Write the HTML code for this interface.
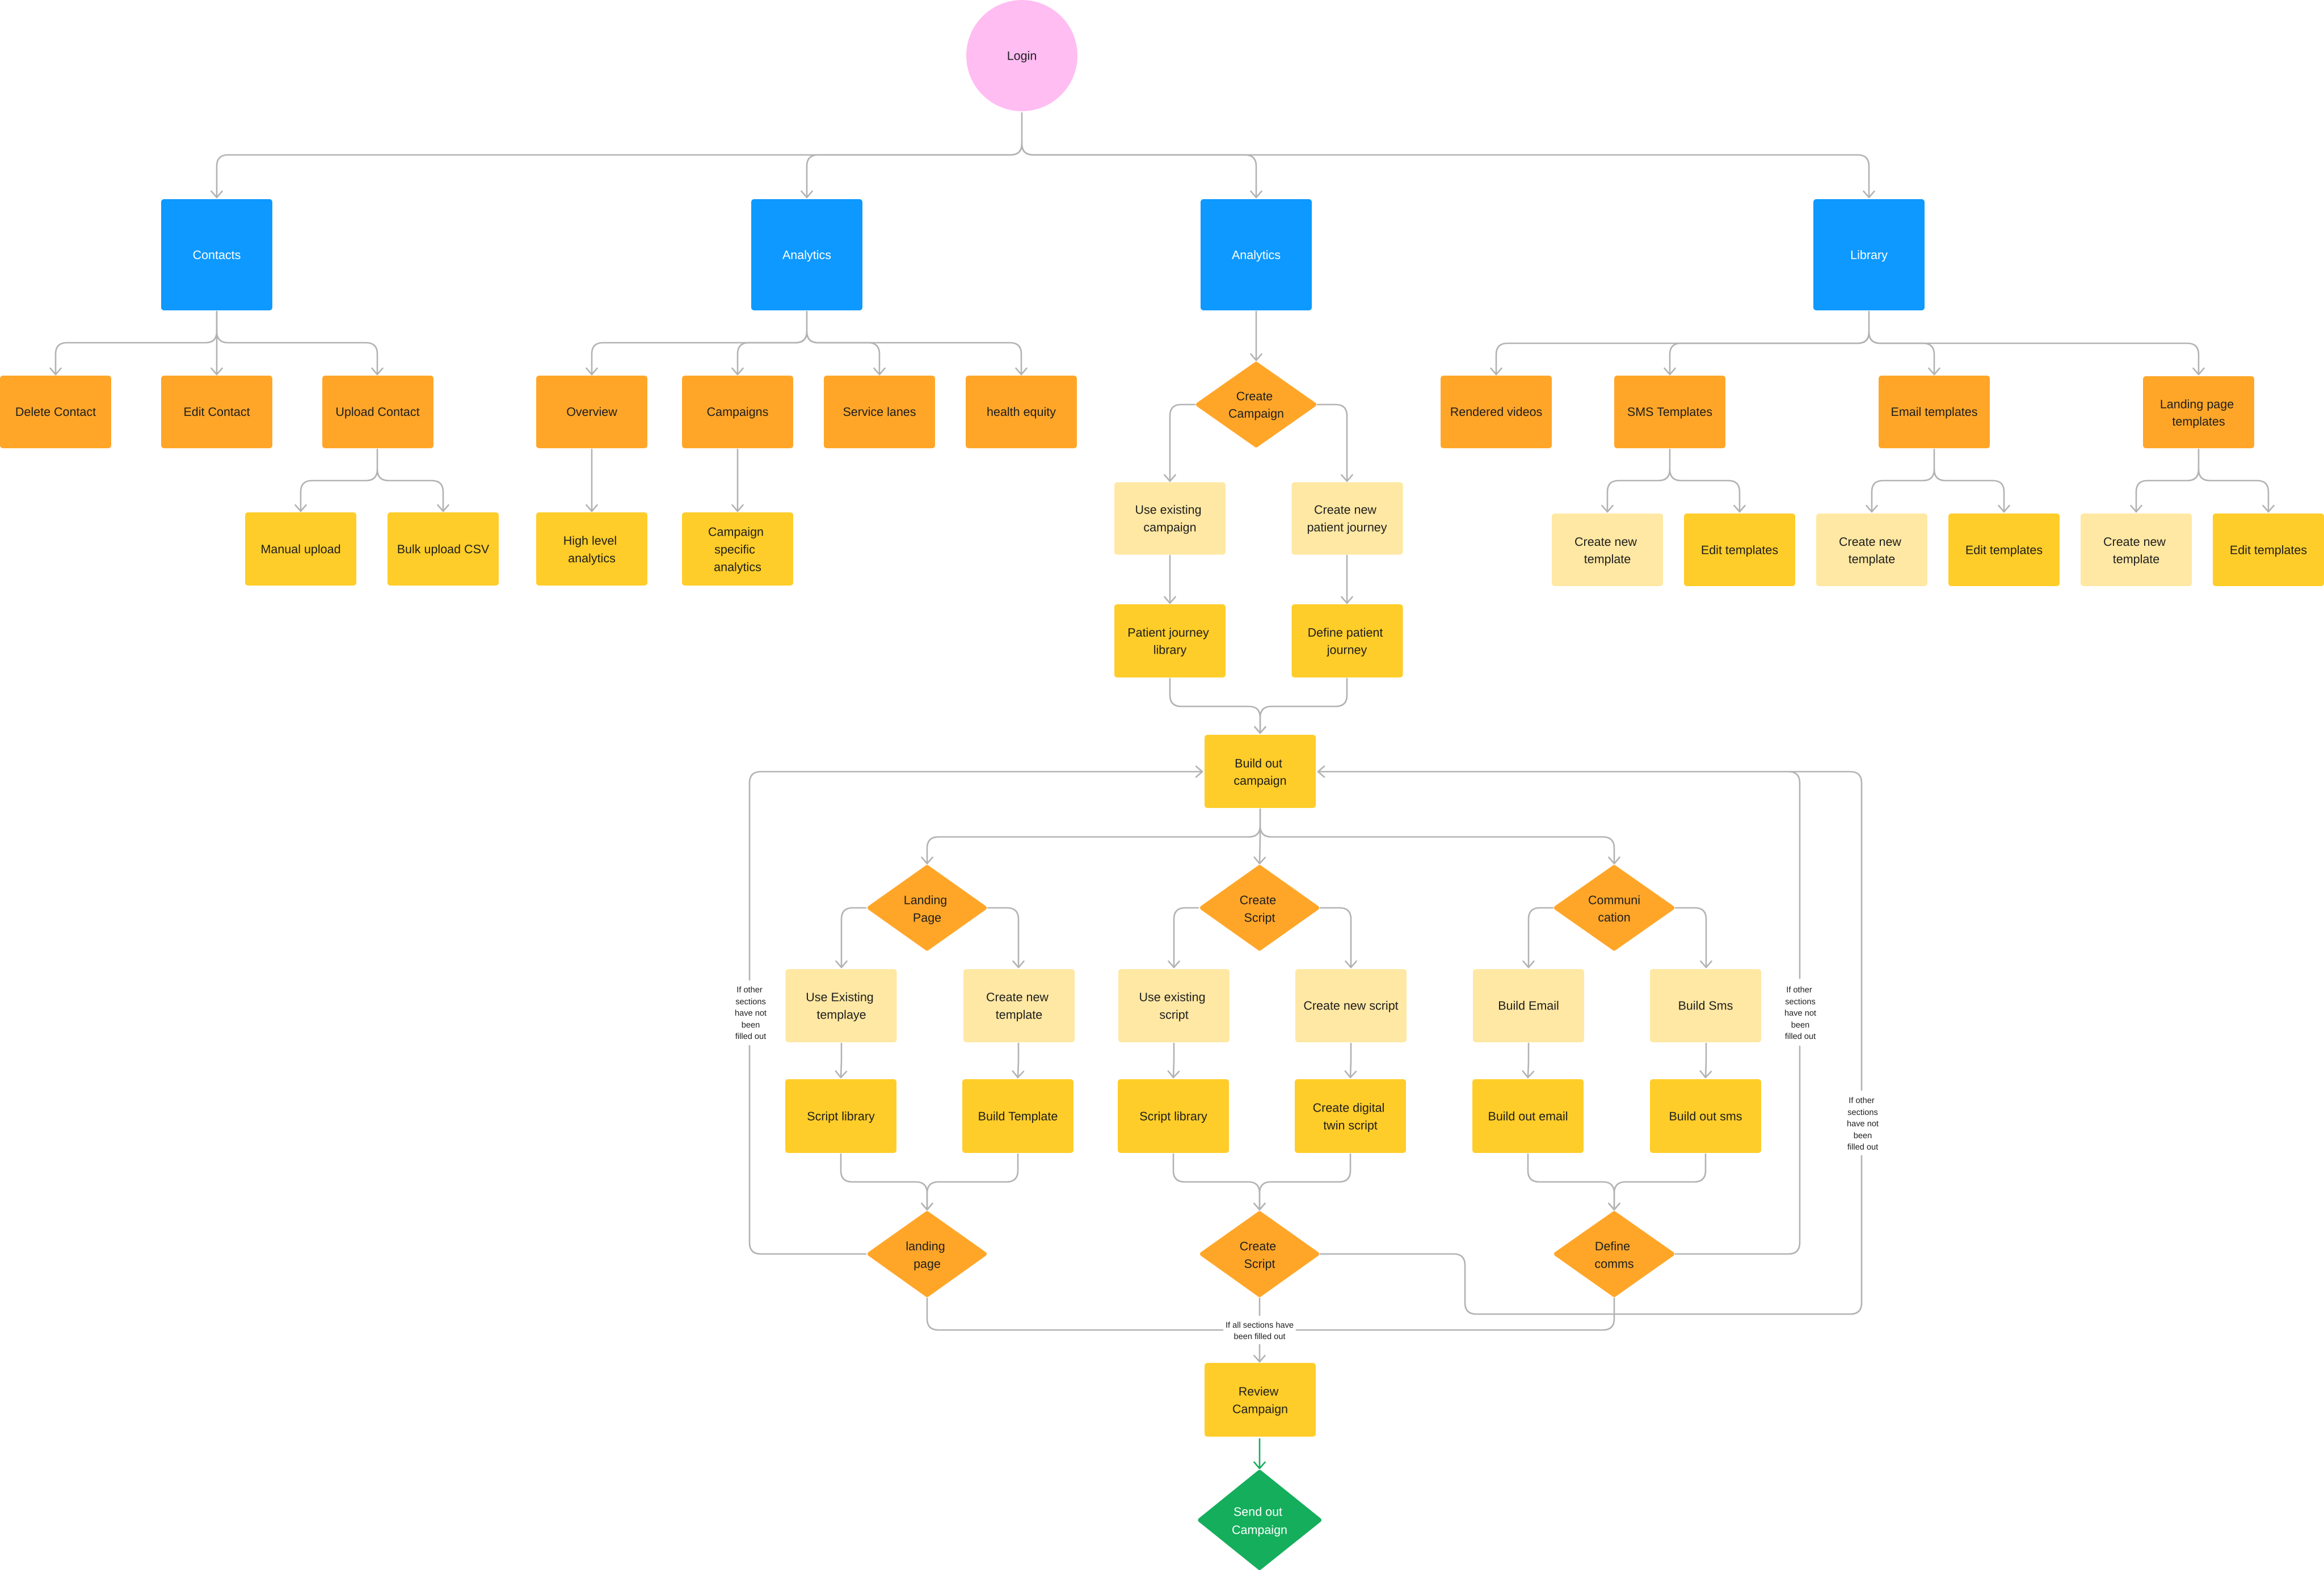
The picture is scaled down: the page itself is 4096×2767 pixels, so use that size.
<!DOCTYPE html>
<html lang="en"><head><meta charset="utf-8"><title>Campaign flow diagram</title>
<style>
html,body{margin:0;padding:0;background:#fff;width:4096px;height:2767px;overflow:hidden}
svg{display:block}
text{font-family:"Liberation Sans",sans-serif;font-size:21.5px;fill:#1e1e1e;text-anchor:middle;text-rendering:geometricPrecision}
.w{fill:#fff}
.s{font-size:14.6px}
.c{fill:none;stroke:#b3b3b3;stroke-width:2.6;stroke-linecap:round;stroke-linejoin:round}
.a{marker-end:url(#ar)}
.g{fill:none;stroke:#14ae5c;stroke-width:2.6;marker-end:url(#ag)}
.bl{fill:#0d99ff}.or{fill:#ffa629}.ye{fill:#ffcd29}.li{fill:#ffe8a3}
.dm{stroke:#ffa629;stroke-width:8;stroke-linejoin:round;fill:#ffa629}
</style></head><body>
<svg xmlns="http://www.w3.org/2000/svg" width="4096" height="2767" viewBox="0 0 4096 2767">
<defs>
<marker id="ar" markerUnits="userSpaceOnUse" viewBox="-14 -12 16 24" refX="0" refY="0" markerWidth="16" markerHeight="24" orient="auto"><path d="M-11 -9.5L0 0L-11 9.5" fill="none" stroke="#b3b3b3" stroke-width="2.6" stroke-linecap="round" stroke-linejoin="round"/></marker>
<marker id="ag" markerUnits="userSpaceOnUse" viewBox="-14 -12 16 24" refX="0" refY="0" markerWidth="16" markerHeight="24" orient="auto"><path d="M-11 -9.5L0 0L-11 9.5" fill="none" stroke="#14ae5c" stroke-width="2.6" stroke-linecap="round" stroke-linejoin="round"/></marker>
</defs>
<rect width="4096" height="2767" fill="#fff"/>

<!-- connectors -->
<g class="c">
<path class="a" d="M1801 199V253Q1801 273 1781 273H402Q382 273 382 293V348"/>
<path class="a" d="M1801 253Q1801 273 1781 273H1442Q1422 273 1422 293V348"/>
<path class="a" d="M1801 253Q1801 273 1821 273H2194Q2214 273 2214 293V348"/>
<path class="a" d="M1801 253Q1801 273 1821 273H3274Q3294 273 3294 293V348"/>

<path class="a" d="M382 549V584Q382 604 362 604H118Q98 604 98 624V660"/>
<path class="a" d="M382 549V660"/>
<path class="a" d="M382 584Q382 604 402 604H645Q665 604 665 624V660"/>
<path class="a" d="M665 792V827Q665 847 645 847H550Q530 847 530 867V901"/>
<path class="a" d="M665 827Q665 847 685 847H761Q781 847 781 867V901"/>

<path class="a" d="M1422 549V584Q1422 604 1402 604H1063Q1043 604 1043 624V660"/>
<path class="a" d="M1422 584Q1422 604 1402 604H1320Q1300 604 1300 624V660"/>
<path class="a" d="M1422 584Q1422 604 1442 604H1530Q1550 604 1550 624V660"/>
<path class="a" d="M1422 584Q1422 604 1442 604H1780Q1800 604 1800 624V660"/>
<path class="a" d="M1043 792V901"/>
<path class="a" d="M1300 792V901"/>

<path class="a" d="M2214 549V635"/>
<path class="a" d="M2106 713H2082Q2062 713 2062 733V848"/>
<path class="a" d="M2322 713H2354Q2374 713 2374 733V848"/>
<path class="a" d="M2062 979V1063"/>
<path class="a" d="M2374 979V1063"/>
<path class="a" d="M2062 1196V1225Q2062 1245 2082 1245H2201Q2221 1245 2221 1265V1292"/>
<path class="a" d="M2374 1196V1225Q2374 1245 2354 1245H2241Q2221 1245 2221 1265V1292"/>

<path class="a" d="M3294 549V585Q3294 605 3274 605H2657Q2637 605 2637 625V660"/>
<path class="a" d="M3294 585Q3294 605 3274 605H2963Q2943 605 2943 625V660"/>
<path class="a" d="M3294 585Q3294 605 3314 605H3389Q3409 605 3409 625V660"/>
<path class="a" d="M3294 585Q3294 605 3314 605H3855Q3875 605 3875 625V660"/>
<path class="a" d="M2943 792V827Q2943 847 2923 847H2853Q2833 847 2833 867V902"/>
<path class="a" d="M2943 827Q2943 847 2963 847H3046Q3066 847 3066 867V902"/>
<path class="a" d="M3409 792V827Q3409 847 3389 847H3319Q3299 847 3299 867V902"/>
<path class="a" d="M3409 827Q3409 847 3429 847H3512Q3532 847 3532 867V902"/>
<path class="a" d="M3875 792V827Q3875 847 3855 847H3785Q3765 847 3765 867V902"/>
<path class="a" d="M3875 827Q3875 847 3895 847H3978Q3998 847 3998 867V902"/>

<path class="a" d="M2221 1426V1455Q2221 1475 2201 1475H1654Q1634 1475 1634 1495V1522"/>
<path class="a" d="M2221 1426V1475L2220 1522"/>
<path class="a" d="M2221 1455Q2221 1475 2241 1475H2825Q2845 1475 2845 1495V1522"/>

<path class="a" d="M1526 1600H1503Q1483 1600 1483 1620V1705"/>
<path class="a" d="M1741 1600H1775Q1795 1600 1795 1620V1705"/>
<path class="a" d="M2112 1600H2089Q2069 1600 2069 1620V1705"/>
<path class="a" d="M2327 1600H2361Q2381 1600 2381 1620V1705"/>
<path class="a" d="M2737 1600H2714Q2694 1600 2694 1620V1705"/>
<path class="a" d="M2953 1600H2987Q3007 1600 3007 1620V1705"/>

<path class="a" d="M1483 1839V1870L1482 1899"/>
<path class="a" d="M1795 1839V1870L1794 1899"/>
<path class="a" d="M2069 1839V1870L2068 1899"/>
<path class="a" d="M2381 1839V1870L2380 1899"/>
<path class="a" d="M2694 1839V1870L2693 1899"/>
<path class="a" d="M3007 1839V1870L3006 1899"/>

<path class="a" d="M1482 2034V2063Q1482 2083 1502 2083H1614Q1634 2083 1634 2103V2132"/>
<path class="a" d="M1794 2034V2063Q1794 2083 1774 2083H1654Q1634 2083 1634 2103V2132"/>
<path class="a" d="M2068 2034V2063Q2068 2083 2088 2083H2200Q2220 2083 2220 2103V2132"/>
<path class="a" d="M2380 2034V2063Q2380 2083 2360 2083H2240Q2220 2083 2220 2103V2132"/>
<path class="a" d="M2693 2034V2063Q2693 2083 2713 2083H2825Q2845 2083 2845 2103V2132"/>
<path class="a" d="M3006 2034V2063Q3006 2083 2986 2083H2865Q2845 2083 2845 2103V2132"/>

<path d="M1526 2210H1341Q1321 2210 1321 2190V1843"/>
<path class="a" d="M1321 1727V1380Q1321 1360 1341 1360H2119"/>
<path d="M2953 2210H3152Q3172 2210 3172 2190V1844"/>
<path class="a" d="M3172 1724V1380Q3172 1360 3152 1360H2323"/>
<path d="M2327 2210H2562Q2582 2210 2582 2230V2296Q2582 2316 2602 2316H3261Q3281 2316 3281 2296V2037"/>
<path d="M3281 1921V1380Q3281 1360 3261 1360H3152"/>

<path d="M1634 2288V2324Q1634 2344 1654 2344H2155"/>
<path d="M2285 2344H2825Q2845 2344 2845 2324V2288"/>
<path d="M2220 2288V2318"/>
<path class="a" d="M2220 2370V2400"/>
</g>
<path class="g" d="M2220 2535V2588"/>

<!-- login -->
<ellipse cx="1801" cy="98" rx="98" ry="98" fill="#ffbdf2"/>
<text x="1801" y="105.500">Login</text>

<!-- blue -->
<rect class="bl" x="284" y="351" width="196" height="196" rx="5"/><text class="w" x="382" y="456.500">Contacts</text>
<rect class="bl" x="1324" y="351" width="196" height="196" rx="5"/><text class="w" x="1422" y="456.500">Analytics</text>
<rect class="bl" x="2116" y="351" width="196" height="196" rx="5"/><text class="w" x="2214" y="456.500">Analytics</text>
<rect class="bl" x="3196" y="351" width="196" height="196" rx="5"/><text class="w" x="3294" y="456.500">Library</text>

<!-- orange row -->
<rect class="or" x="0" y="662" width="196" height="128" rx="5"/><text x="98" y="733">Delete Contact</text>
<rect class="or" x="284" y="662" width="196" height="128" rx="5"/><text x="382" y="733">Edit Contact</text>
<rect class="or" x="568" y="662" width="196" height="128" rx="5"/><text x="665.500" y="733">Upload Contact</text>
<rect class="or" x="945" y="662" width="196" height="128" rx="5"/><text x="1043" y="733">Overview</text>
<rect class="or" x="1202" y="662" width="196" height="128" rx="5"/><text x="1300" y="733">Campaigns</text>
<rect class="or" x="1452" y="662" width="196" height="128" rx="5"/><text x="1550" y="733">Service lanes</text>
<rect class="or" x="1702" y="662" width="196" height="128" rx="5"/><text x="1800" y="733">health equity</text>
<rect class="or" x="2539" y="662" width="196" height="128" rx="5"/><text x="2637" y="733">Rendered videos</text>
<rect class="or" x="2845" y="662" width="196" height="128" rx="5"/><text x="2943" y="733">SMS Templates</text>
<rect class="or" x="3311" y="662" width="196" height="128" rx="5"/><text x="3409" y="733">Email templates</text>
<rect class="or" x="3777" y="663" width="196" height="127" rx="5"/><text x="3872" y="719.500">Landing page</text><text x="3875" y="750">templates</text>

<!-- row 3 -->
<rect class="ye" x="432" y="903" width="196" height="129" rx="5"/><text x="530" y="975">Manual upload</text>
<rect class="ye" x="683" y="903" width="196" height="129" rx="5"/><text x="781" y="975">Bulk upload CSV</text>
<rect class="ye" x="945" y="903" width="196" height="129" rx="5"/><text x="1040" y="960">High level</text><text x="1043" y="991">analytics</text>
<rect class="ye" x="1202" y="903" width="196" height="129" rx="5"/><text x="1297" y="944.500">Campaign</text><text x="1295" y="975.500">specific</text><text x="1300" y="1006.500">analytics</text>
<rect class="li" x="2735" y="905" width="196" height="128" rx="5"/><text x="2830" y="962">Create new</text><text x="2833" y="992.500">template</text>
<rect class="ye" x="2968" y="905" width="196" height="128" rx="5"/><text x="3066" y="976.500">Edit templates</text>
<rect class="li" x="3201" y="905" width="196" height="128" rx="5"/><text x="3296" y="962">Create new</text><text x="3299" y="992.500">template</text>
<rect class="ye" x="3434" y="905" width="196" height="128" rx="5"/><text x="3532" y="976.500">Edit templates</text>
<rect class="li" x="3667" y="905" width="196" height="128" rx="5"/><text x="3762" y="962">Create new</text><text x="3765" y="992.500">template</text>
<rect class="ye" x="3900" y="905" width="196" height="128" rx="5"/><text x="3998" y="976.500">Edit templates</text>

<!-- analytics 2 subtree -->
<polygon class="dm" points="2214,641.500 2316,713 2214,784.500 2112,713"/>
<text x="2211" y="705.500">Create</text><text x="2214" y="736">Campaign</text>
<rect class="li" x="1964" y="850" width="196" height="127.500" rx="5"/><text x="2059" y="905.500">Use existing</text><text x="2062" y="936.500">campaign</text>
<rect class="li" x="2276.500" y="850" width="196" height="127.500" rx="5"/><text x="2371" y="905.500">Create new</text><text x="2374" y="936.500">patient journey</text>
<rect class="ye" x="1964" y="1065" width="196" height="129" rx="5"/><text x="2059" y="1122">Patient journey</text><text x="2062" y="1152.500">library</text>
<rect class="ye" x="2276.500" y="1065" width="196" height="129" rx="5"/><text x="2371" y="1122">Define patient</text><text x="2374" y="1152.500">journey</text>

<!-- build out -->
<rect class="ye" x="2123" y="1295" width="196" height="129" rx="5"/><text x="2218" y="1352.500">Build out</text><text x="2221" y="1383">campaign</text>

<!-- diamonds row -->
<polygon class="dm" points="1634,1528.500 1735,1600 1634,1671.500 1533,1600"/>
<text x="1631" y="1593.500">Landing</text><text x="1634" y="1624.500">Page</text>
<polygon class="dm" points="2220,1528.500 2321,1600 2220,1671.500 2119,1600"/>
<text x="2217" y="1593.500">Create</text><text x="2220" y="1624.500">Script</text>
<polygon class="dm" points="2845,1528.500 2947,1600 2845,1671.500 2743,1600"/>
<text x="2845" y="1593.500">Communi</text><text x="2845" y="1624">cation</text>

<!-- light row -->
<rect class="li" x="1384.500" y="1708" width="196" height="129" rx="5"/><text x="1480" y="1764.500">Use Existing</text><text x="1483" y="1795.500">templaye</text>
<rect class="li" x="1698" y="1708" width="196" height="129" rx="5"/><text x="1793" y="1764.500">Create new</text><text x="1796" y="1795.500">template</text>
<rect class="li" x="1971" y="1708" width="196" height="129" rx="5"/><text x="2066" y="1764.500">Use existing</text><text x="2069" y="1795.500">script</text>
<rect class="li" x="2283" y="1708" width="196" height="129" rx="5"/><text x="2381" y="1779.500">Create new script</text>
<rect class="li" x="2596" y="1708" width="196" height="129" rx="5"/><text x="2694" y="1779.500">Build Email</text>
<rect class="li" x="2908" y="1708" width="196" height="129" rx="5"/><text x="3006" y="1779.500">Build Sms</text>

<!-- yellow row -->
<rect class="ye" x="1384" y="1902" width="196" height="130" rx="5"/><text x="1482" y="1974.500">Script library</text>
<rect class="ye" x="1696" y="1902" width="196" height="130" rx="5"/><text x="1794" y="1974.500">Build Template</text>
<rect class="ye" x="1970" y="1902" width="196" height="130" rx="5"/><text x="2068" y="1974.500">Script library</text>
<rect class="ye" x="2282" y="1902" width="196" height="130" rx="5"/><text x="2377" y="1959.500">Create digital</text><text x="2380" y="1990.500">twin script</text>
<rect class="ye" x="2595" y="1902" width="196" height="130" rx="5"/><text x="2693" y="1974.500">Build out email</text>
<rect class="ye" x="2908" y="1902" width="196" height="130" rx="5"/><text x="3006" y="1974.500">Build out sms</text>

<!-- lower diamonds -->
<polygon class="dm" points="1634,2138.500 1735,2210 1634,2282 1533,2210"/>
<text x="1631" y="2203.500">landing</text><text x="1634" y="2234.500">page</text>
<polygon class="dm" points="2220,2138.500 2321,2210 2220,2282 2119,2210"/>
<text x="2217" y="2203.500">Create</text><text x="2220" y="2234.500">Script</text>
<polygon class="dm" points="2845,2138.500 2947,2210 2845,2282 2743,2210"/>
<text x="2842" y="2203.500">Define</text><text x="2845" y="2234.500">comms</text>

<!-- review, send -->
<rect class="ye" x="2123" y="2402" width="196" height="130" rx="5"/><text x="2218" y="2459.500">Review</text><text x="2221" y="2490.500">Campaign</text>
<polygon points="2220,2594.500 2325,2679 2220,2763 2115.500,2679" fill="#14ae5c" stroke="#14ae5c" stroke-width="8" stroke-linejoin="round"/>
<text class="w" x="2217" y="2671.500">Send out</text><text class="w" x="2220" y="2703.500">Campaign</text>

<!-- small labels -->
<text class="s" x="1321" y="1749">If other</text><text class="s" x="1323" y="1770">sections</text><text class="s" x="1323" y="1790">have not</text><text class="s" x="1323" y="1811">been</text><text class="s" x="1323" y="1831">filled out</text>
<text class="s" x="3171" y="1749">If other</text><text class="s" x="3173" y="1770">sections</text><text class="s" x="3173" y="1790">have not</text><text class="s" x="3173" y="1811">been</text><text class="s" x="3173" y="1831">filled out</text>
<text class="s" x="3281" y="1944">If other</text><text class="s" x="3283" y="1965">sections</text><text class="s" x="3283" y="1985">have not</text><text class="s" x="3283" y="2006">been</text><text class="s" x="3283" y="2026">filled out</text>
<text class="s" x="2220" y="2340">If all sections have</text><text class="s" x="2220" y="2360">been filled out</text>
</svg>
</body></html>
